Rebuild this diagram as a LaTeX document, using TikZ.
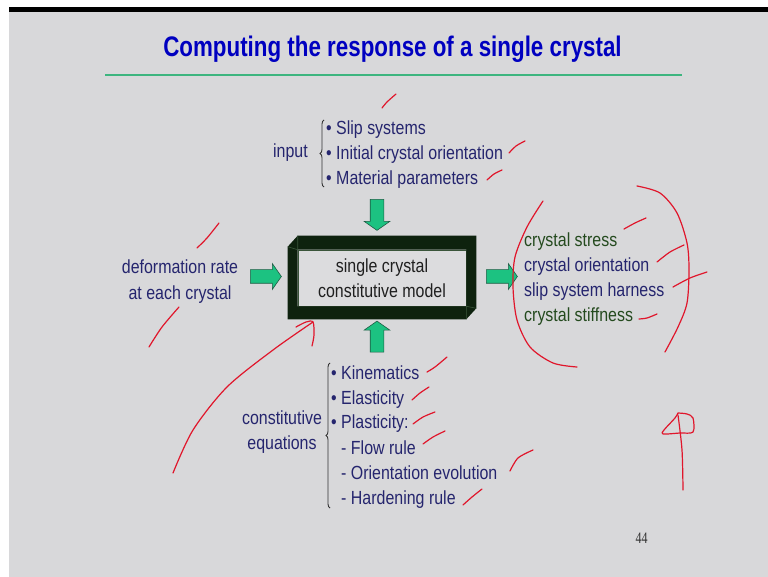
\documentclass[tikz,border=0pt]{standalone}
\usepackage{fontspec}
\setmainfont{Liberation Sans}[FakeStretch=0.84]
\newfontfamily\titlefont[FakeStretch=0.79]{Liberation Sans}
\newfontfamily\pagenofont[FakeStretch=0.75]{Liberation Serif}
\usetikzlibrary{shapes.arrows,decorations.pathreplacing,calc}

\definecolor{slidegray}{HTML}{D8D8DA}
\definecolor{titleblue}{HTML}{0000C0}
\definecolor{rulegreen}{HTML}{3DB57F}
\definecolor{navytext}{HTML}{25256E}
\definecolor{greentext}{HTML}{244A1E}
\definecolor{arrowgreen}{HTML}{1CC281}
\definecolor{arrowedge}{HTML}{1F5C45}
\definecolor{framefill}{HTML}{0E220E}
\definecolor{bevel}{HTML}{3A553A}
\definecolor{inkred}{HTML}{E0162B}

\tikzset{
  txt/.style={inner sep=0pt, font=\fontsize{19}{22}\selectfont},
  navy/.style={txt, text=navytext},
  darkgreen/.style={txt, text=greentext},
  item/.style={navy, anchor=base west},
  blockarrow/.style={single arrow, draw=arrowedge, fill=arrowgreen,
    line width=0.6pt, inner xsep=0pt, inner ysep=6.5pt,
    minimum height=31pt, minimum width=25pt,
    single arrow head extend=6pt, single arrow tip angle=110},
  modelbox/.style={draw=bevel, line width=0.6pt, fill=slidegray!90!white,
    minimum width=168pt, minimum height=56pt, inner sep=0pt,
    align=center, text=black!88, font=\fontsize{19}{25}\selectfont},
  bracestyle/.style={decorate, decoration={brace, amplitude=4pt},
    line width=0.9pt, draw=black!80},
  ink/.style={draw=inkred, line width=1.2pt, line cap=round, line join=round},
}

\begin{document}
\begin{tikzpicture}[x=1pt, y=-1pt]
\useasboundingbox (0,0) rectangle (768,577);

% slide background with the dark bar on top
\fill[white] (0,0) rectangle (768,577);
\fill[slidegray] (9,12) rectangle (768,577);
\fill[black] (9,7) rectangle (768,12);

% title and rule
\node[inner sep=0pt, anchor=base, text=titleblue,
  font=\titlefont\bfseries\fontsize{28.3}{30}\selectfont] (title) at (392.5,57)
  {Computing the response of a single crystal};
\coordinate (ruleL) at (105,75);
\coordinate (ruleR) at (682,75);
\draw[rulegreen, line width=2.2pt] (ruleL) -- (ruleR);

% central model box with bevelled frame
\node[modelbox] (model) at (382,278) {single crystal\\constitutive model};
\fill[framefill, even odd rule]
  ($(model.north west)+(-10,-3)$) -- ($(model.north west)+(0,-14)$)
  -- ($(model.north east)+(10,-14)$) -- ($(model.south east)+(10,2)$)
  -- ($(model.south east)+(0,13)$) -- ($(model.south west)+(-10,13)$) -- cycle
  (model.north west) rectangle (model.south east);
\draw[bevel, line width=0.6pt]
  ($(model.north west)+(-10,-3)$) -- (model.north west) -- ($(model.north west)+(0,-14)$)
  ($(model.south east)+(10,2)$) -- (model.south east) -- ($(model.south east)+(0,13)$);

% inputs
\node[navy, anchor=base] (input) at (290.5,158) {input};
\draw[bracestyle] (324,187) -- (324,120);
\node[item] (in1) at (326,135) {•\ Slip systems};
\node[item] (in2) at (326,160) {•\ Initial crystal orientation};
\node[item] (in3) at (326,184.5) {•\ Material parameters};

% deformation rate
\node[navy, anchor=base] (def1) at (180,274) {deformation rate};
\node[navy, anchor=base] (def2) at (180,299) {at each crystal};

% outputs
\node[darkgreen, anchor=base west] (out1) at (524,246.7) {crystal stress};
\node[navy, anchor=base west] (out2) at (524,271.7) {crystal orientation};
\node[navy, anchor=base west] (out3) at (524,296.7) {slip system harness};
\node[darkgreen, anchor=base west] (out4) at (524,321.7) {crystal stiffness};

% constitutive equations
\node[navy, anchor=base] (ce1) at (282,424) {constitutive};
\node[navy, anchor=base] (ce2) at (282,449.3) {equations};
\draw[bracestyle] (330,508) -- (330,363);
\node[item] (eq1) at (331,379) {•\ Kinematics};
\node[item] (eq2) at (331,404) {•\ Elasticity};
\node[item] (eq3) at (331,428.3) {•\ Plasticity:};
\node[item] (eq4) at (331,454) {\hphantom{•\ }- Flow rule};
\node[item] (eq5) at (331,479.3) {\hphantom{•\ }- Orientation evolution};
\node[item] (eq6) at (331,504.3) {\hphantom{•\ }- Hardening rule};

% block arrows into and out of the model
\node[blockarrow, rotate=-90] (arrIn) at (377,212.5) {};
\node[blockarrow, rotate=90] (arrEq) at (377,339) {};
\node[blockarrow] (arrDef) at (263.5,276.5) {};
\node[blockarrow] (arrOut) at (499.5,276.5) {};

% page number
\node[inner sep=0pt, anchor=base, text=black!80,
  font=\pagenofont\fontsize{16}{16}\selectfont] (pageno) at (641.5,543) {44};

% handwritten red marks
\draw[ink] plot[smooth] coordinates {(382,108) (387,102) (396,94)};
\draw[ink] plot[smooth] coordinates {(509,153) (516,146) (525,141)};
\draw[ink] plot[smooth] coordinates {(487,180) (494,174) (502,170)};
\draw[ink] plot[smooth] coordinates {(197,248) (207,238) (219,223)};
\draw[ink] plot[smooth] coordinates {(149,347) (162,327) (179,307)};
\draw[ink] plot[smooth] coordinates {(173,473) (193,430) (227,387) (273,350) (313,322)};
\draw[ink] plot[smooth] coordinates {(296,327) (306,322) (313,322) (314,335) (312,346)};
\draw[ink] plot[smooth] coordinates {(543,201) (527,227) (515,257) (513,287)
  (517,320) (530,347) (553,363) (577,367)};
\draw[ink] plot[smooth] coordinates {(637,186) (660,193) (677,213) (687,243)
  (689,270) (687,303) (678,327) (665,352)};
\draw[ink] plot[smooth] coordinates {(624,229) (635,223) (646,218)};
\draw[ink] plot[smooth] coordinates {(657,262) (670,252) (684,245)};
\draw[ink] plot[smooth] coordinates {(673,287) (690,278) (707,272)};
\draw[ink] plot[smooth] coordinates {(639,319) (647,318) (657,314)};
\draw[ink] plot[smooth] coordinates {(678,413) (687,414) (693,418) (693,432)
  (680,433) (663,434) (664,430) (675,418) (678,413)};
\draw[ink] plot[smooth] coordinates {(678,415) (682,450) (683,490)};
\draw[ink] plot[smooth] coordinates {(427,372) (435,367) (447,357)};
\draw[ink] plot[smooth] coordinates {(412,400) (420,393) (429,387)};
\draw[ink] plot[smooth] coordinates {(413,424) (423,417) (435,412)};
\draw[ink] plot[smooth] coordinates {(423,444) (433,437) (445,431)};
\draw[ink] plot[smooth] coordinates {(510,471) (518,458) (533,450)};
\draw[ink] plot[smooth] coordinates {(463,505) (472,497) (482,489)};
\end{tikzpicture}
\end{document}
